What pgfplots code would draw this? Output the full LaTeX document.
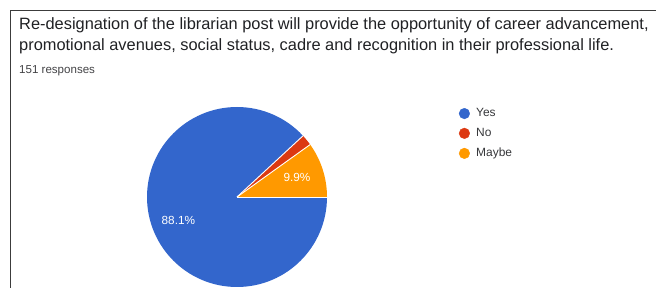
\documentclass[border=0pt]{standalone}
\usepackage{fontspec}
\setmainfont{Liberation Sans}
\usepackage{pgfplots}
\pgfplotsset{compat=1.18}
\definecolor{cyes}{HTML}{3366CC}
\definecolor{cno}{HTML}{DC3912}
\definecolor{cmaybe}{HTML}{FF9900}
\definecolor{ctitle}{HTML}{202124}
\definecolor{cframe}{HTML}{3C3C3C}
% pie data (percent)
\def\vYes{88.1}
\def\vNo{2.0}
\def\vMaybe{9.9}
\begin{document}
\begin{tikzpicture}
\begin{axis}[
  width=656bp, height=288bp, scale only axis,
  xmin=0, xmax=656, ymin=0, ymax=288,
  hide axis, clip=false,
  legend cell align=left,
  legend style={at={(axis cs:458.7,181.5)}, anchor=north west,
    draw=none, fill=none, inner sep=0pt,
    font=\fontsize{12}{14}\selectfont, text=ctitle!90,
    row sep=6.1bp, column sep=4.3bp},
  legend image code/.code={\fill[#1] (0bp,0bp) circle (5.3bp);},
]
% frame
\addplot[draw=cframe, line width=1bp, forget plot] coordinates {(10,0) (10,277) (656,277)};
% pie slices (clockwise from east)
\pgfmathsetmacro\aA{-\vYes*3.6}
\pgfmathsetmacro\aB{\aA-\vNo*3.6}
\pgfmathsetmacro\aC{\aB-\vMaybe*3.6}
\fill[cyes] (axis cs:237,91) -- ++(0:90bp) arc[start angle=0, end angle=\aA, radius=90bp] -- cycle;
\fill[cno] (axis cs:237,91) -- ++(\aA:90bp) arc[start angle=\aA, end angle=\aB, radius=90bp] -- cycle;
\fill[cmaybe] (axis cs:237,91) -- ++(\aB:90bp) arc[start angle=\aB, end angle=\aC, radius=90bp] -- cycle;
\draw[white, line width=0.9bp] (axis cs:237,91) -- ++(0:90bp);
\draw[white, line width=0.9bp] (axis cs:237,91) -- ++(\aA:90bp);
\draw[white, line width=0.9bp] (axis cs:237,91) -- ++(\aB:90bp);
% slice labels
\pgfmathsetmacro\mA{\aA/2}
\pgfmathsetmacro\mC{(\aB+\aC)/2}
\path (axis cs:237,91) ++(\mA:63bp) node[text=white, font=\fontsize{11.8}{13}\selectfont] {88.1\%};
\path (axis cs:237,91) ++(\mC:63bp) node[text=white, font=\fontsize{11.8}{13}\selectfont] {9.9\%};
% titles
\node[anchor=base west, inner sep=0pt, text=ctitle, font=\fontsize{16.45}{19}\selectfont] at (axis cs:19,258.7)
  {Re-designation of the librarian post will provide the opportunity of career advancement,};
\node[anchor=base west, inner sep=0pt, text=ctitle, font=\fontsize{16.45}{19}\selectfont] at (axis cs:19,237.7)
  {promotional avenues, social status, cadre and recognition in their professional life.};
\node[anchor=base west, inner sep=0pt, text=ctitle!85, font=\fontsize{11.6}{13}\selectfont] at (axis cs:19,214.7)
  {151 responses};
% legend
\addlegendimage{cyes}\addlegendentry{Yes}
\addlegendimage{cno}\addlegendentry{No}
\addlegendimage{cmaybe}\addlegendentry{Maybe}
\end{axis}
\pgfresetboundingbox
\path[use as bounding box] (current axis.south west) rectangle (current axis.north east);
\end{tikzpicture}
\end{document}
